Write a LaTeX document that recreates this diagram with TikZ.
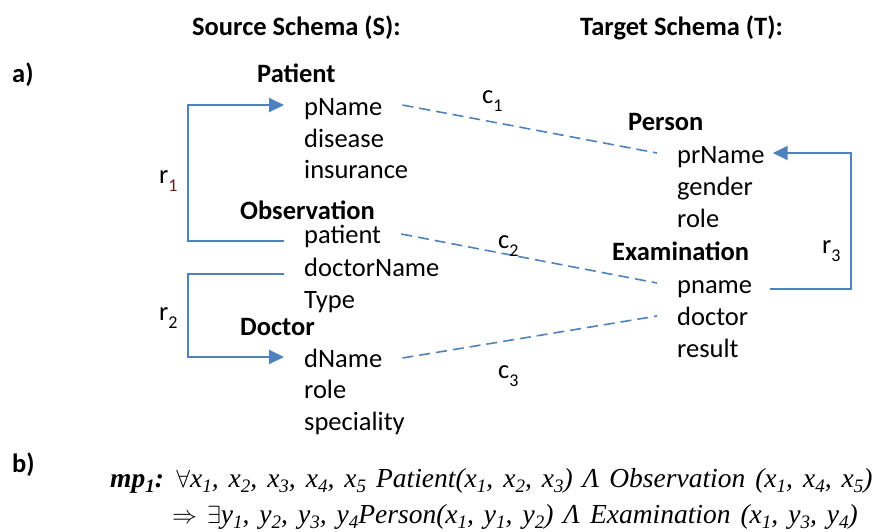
\documentclass[tikz,border=0pt]{standalone}
\usepackage{fontspec}
\setmainfont{Carlito}
\newfontfamily\formfont{Liberation Serif}
\usetikzlibrary{arrows.meta}
\definecolor{linkblue}{RGB}{79,129,189}
\definecolor{subred}{RGB}{120,25,25}

% lowered indices for the labels and for the formula
\newcommand\lsub[1]{\raisebox{-8pt}{\fontsize{18}{18}\selectfont #1}}
\newcommand\fsub[1]{\raisebox{-5.5pt}{\fontsize{19}{19}\selectfont #1}}
% wide word spacing for the formula lines
\newcommand\formspace{\spaceskip 10pt plus 1pt\relax}

\begin{document}
\begin{tikzpicture}[x=1pt,y=-1pt,
  txt/.style={anchor=base west, inner sep=0pt, font=\fontsize{26.5}{30}\selectfont},
  hdr/.style={txt, font=\fontsize{26.5}{30}\selectfont\bfseries},
  lab/.style={anchor=base west, inner sep=0pt, font=\fontsize{26.5}{30}\selectfont},
  formula/.style={anchor=base west, inner sep=0pt,
    font=\formfont\itshape\fontsize{27.5}{30}\selectfont},
  rel/.style={draw=linkblue, line width=2pt},
  reltip/.style={rel, -{Triangle[length=15pt,width=14pt]}},
  corr/.style={draw=linkblue, line width=1.6pt, dash pattern=on 11pt off 6pt}]

\useasboundingbox (0,0) rectangle (881,531);

% titles and part labels
\node[hdr] (srcT) at (192,35) {Source Schema (S):};
\node[hdr] (tgtT) at (580,35) {Target Schema (T):};
\node[hdr] (pa) at (12,82) {a)};
\node[hdr] (pb) at (12,472) {b)};

% source schema
\node[hdr] (patientT) at (257,82) {Patient};
\node[txt] (pName) at (304,115) {pName};
\node[txt] (disease) at (304,147) {disease};
\node[txt] (insurance) at (304,178) {insurance};
\node[hdr] (obsT) at (240,219) {Observation};
\node[txt] (patient) at (304,243) {patient};
\node[txt] (doctorName) at (304,276) {doctorName};
\node[txt] (type) at (304,308) {Type};
\node[hdr] (docT) at (240,335) {Doctor};
\node[txt] (dName) at (304,367) {dName};
\node[txt] (srole) at (304,398) {role};
\node[txt] (speciality) at (304,430) {speciality};

% target schema
\node[hdr] (personT) at (628,130) {Person};
\node[txt] (prName) at (677,163) {prName};
\node[txt] (gender) at (677,195) {gender};
\node[txt] (trole) at (677,227) {role};
\node[hdr] (examT) at (612,260) {Examination};
\node[txt] (pname) at (677,293) {pname};
\node[txt] (doctor) at (677,325) {doctor};
\node[txt] (result) at (677,357) {result};

% referential constraints
\draw[reltip] ([xshift=-20pt,yshift=2pt]patient.base west) -- ++(-96,0)
  |- ([xshift=-20pt,yshift=10pt]pName.base west);
\draw[reltip] ([xshift=-20pt,yshift=2pt]doctorName.base west) -- ++(-96,0)
  |- ([xshift=-20pt,yshift=10pt]dName.base west);
\draw[reltip] ([xshift=18pt,yshift=4pt]pname.base east) -- ++(81,0)
  |- ([xshift=8pt,yshift=10pt]prName.base east);

% correspondences
\draw[corr] ([xshift=20pt,yshift=10pt]pName.base east) -- ([xshift=-20pt,yshift=10pt]prName.base west);
\draw[corr] ([xshift=20pt,yshift=9pt]patient.base east) -- ([xshift=-20pt,yshift=10pt]pname.base west);
\draw[corr] ([xshift=20pt,yshift=9pt]dName.base east) -- ([xshift=-20pt,yshift=9pt]doctor.base west);

% labels
\node[lab] (r1) at (159,183) {r\lsub{\color{subred}1}};
\node[lab] (r2) at (159,320) {r\lsub{2}};
\node[lab] (r3) at (822,253) {r\lsub{3}};
\node[lab] (c1) at (482,103) {c\lsub{1}};
\node[lab] (c2) at (498,248) {c\lsub{2}};
\node[lab] (c3) at (498,378) {c\lsub{3}};

% mapping formula
\node[formula] (mp1) at (110,487) {\formspace\textbf{mp\fsub{1}:} $\forall$x\fsub{1}, x\fsub{2}, x\fsub{3}, x\fsub{4}, x\fsub{5} Patient(x\fsub{1}, x\fsub{2}, x\fsub{3}) Λ Observation (x\fsub{1}, x\fsub{4}, x\fsub{5})};
\node[formula] (mp1b) at (172,523) {\formspace$\Rightarrow$ $\exists$y\fsub{1}, y\fsub{2}, y\fsub{3}, y\fsub{4}Person(x\fsub{1}, y\fsub{1}, y\fsub{2}) Λ Examination (x\fsub{1}, y\fsub{3}, y\fsub{4})};

\end{tikzpicture}
\end{document}
